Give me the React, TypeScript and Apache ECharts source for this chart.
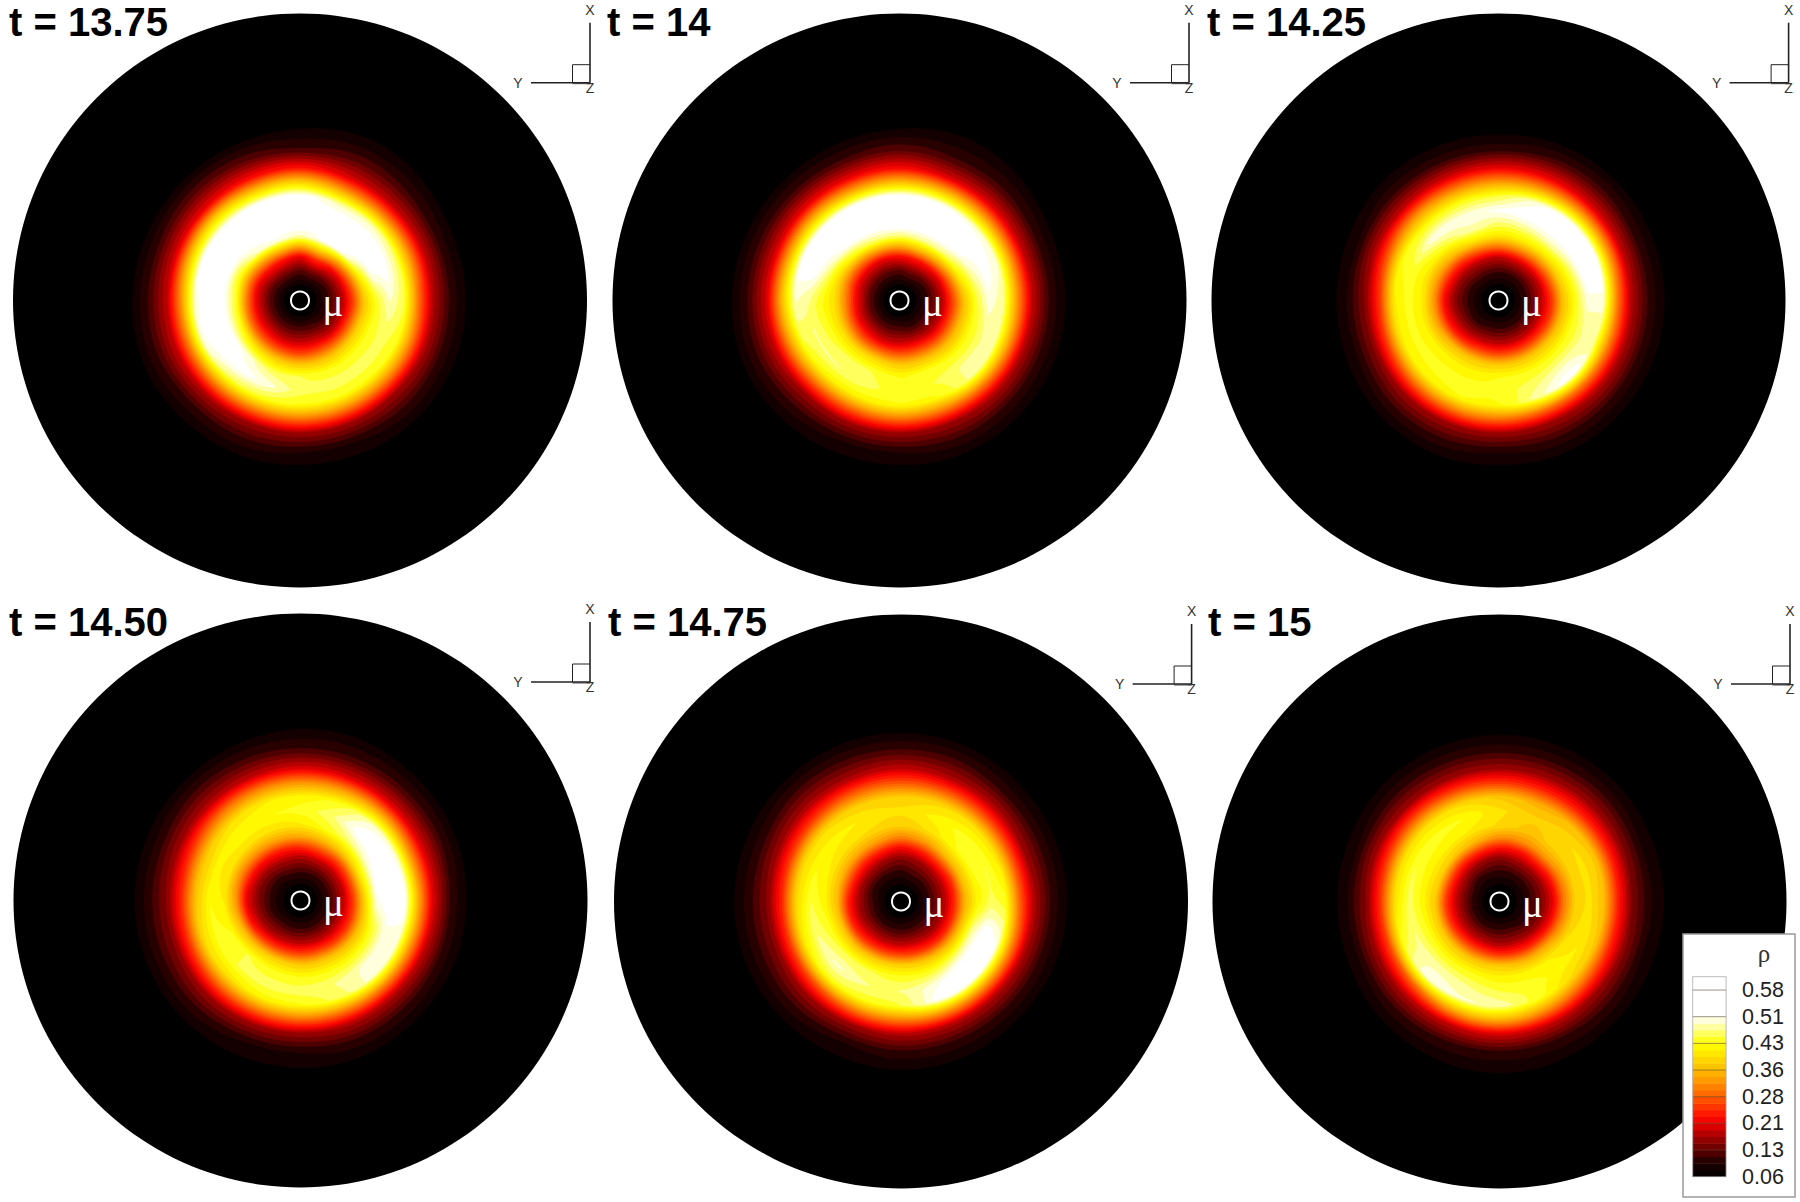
import React, { useEffect, useRef } from "react";
import * as echarts from "echarts";

// Angle of each table row (degrees, counter-clockwise from east) and radius of each column (px of the disc).
const angles = [0, 22.5, 45, 67.5, 90, 112.5, 135, 157.5, 180, 202.5, 225, 247.5, 270, 292.5, 315, 337.5];
const radii = [0, 14, 30, 44, 54, 64, 76, 90, 104, 118, 132, 150, 170, 200];
const titles = ["t = 13.75", "t = 14", "t = 14.25", "t = 14.50", "t = 14.75", "t = 15"];
const levels = [0.06, 0.0786, 0.0971, 0.1157, 0.1343, 0.1529, 0.1714, 0.19, 0.2086, 0.2271, 0.2457, 0.2643, 0.2829, 0.3014, 0.32, 0.3386, 0.3571, 0.3757, 0.3943, 0.4129, 0.4314, 0.45, 0.4686, 0.4871, 0.5057, 0.5243, 0.5429, 0.5614, 0.58, 0.5986, 0.6171];

// rho at radii[1..12]; radii[0] and radii[13] are the black surroundings.
const panel1 = [
  [.07,.12,.19,.27,.37,.44,.49,.45,.30,.18,.11,.070],
  [.07,.12,.20,.30,.42,.51,.52,.46,.32,.19,.11,.070],
  [.07,.13,.22,.34,.50,.53,.53,.48,.32,.19,.12,.080],
  [.07,.14,.25,.38,.51,.53,.53,.48,.33,.20,.13,.085],
  [.07,.13,.21,.34,.48,.53,.54,.52,.38,.23,.12,.080],
  [.07,.14,.23,.36,.50,.53,.54,.52,.37,.22,.13,.075],
  [.07,.14,.23,.34,.48,.52,.53,.52,.38,.21,.13,.070],
  [.07,.13,.21,.31,.43,.51,.53,.52,.36,.20,.12,.070],
  [.07,.13,.21,.31,.44,.51,.53,.50,.33,.19,.12,.072],
  [.07,.13,.21,.30,.43,.51,.53,.50,.32,.19,.12,.075],
  [.07,.13,.21,.29,.40,.50,.52,.46,.31,.18,.11,.072],
  [.07,.13,.20,.28,.38,.46,.50,.44,.30,.17,.11,.070],
  [.07,.13,.20,.27,.37,.45,.46,.43,.30,.17,.10,.070],
  [.07,.13,.20,.28,.37,.44,.46,.43,.30,.17,.10,.070],
  [.07,.12,.19,.28,.38,.44,.46,.43,.30,.17,.11,.070],
  [.07,.12,.19,.28,.38,.44,.46,.44,.31,.18,.11,.070],
];
const panel2 = [
  [.07,.12,.19,.27,.36,.44,.50,.47,.32,.19,.11,.070],
  [.07,.12,.20,.30,.41,.48,.52,.49,.33,.19,.11,.070],
  [.07,.13,.22,.34,.46,.52,.53,.50,.34,.20,.12,.080],
  [.07,.14,.23,.36,.47,.53,.53,.51,.35,.20,.12,.085],
  [.07,.13,.22,.34,.46,.53,.54,.52,.36,.22,.13,.080],
  [.07,.13,.21,.33,.46,.52,.54,.52,.35,.21,.12,.075],
  [.07,.13,.21,.31,.43,.51,.53,.52,.36,.21,.12,.070],
  [.07,.13,.21,.30,.39,.47,.53,.52,.35,.20,.12,.070],
  [.07,.13,.22,.31,.39,.43,.47,.49,.35,.20,.12,.072],
  [.07,.13,.21,.30,.39,.44,.47,.45,.32,.19,.12,.075],
  [.07,.13,.21,.29,.39,.45,.47,.42,.29,.17,.11,.072],
  [.07,.13,.20,.29,.39,.45,.46,.42,.29,.17,.10,.070],
  [.07,.13,.20,.28,.37,.43,.44,.43,.30,.17,.10,.070],
  [.07,.12,.20,.28,.37,.44,.45,.43,.30,.17,.11,.070],
  [.07,.12,.19,.27,.36,.43,.47,.48,.31,.18,.11,.070],
  [.07,.12,.19,.27,.36,.43,.47,.47,.32,.18,.11,.070],
];
const panel3 = [
  [.07,.12,.19,.26,.36,.43,.50,.50,.31,.18,.11,.070],
  [.07,.12,.19,.28,.38,.45,.53,.53,.34,.19,.11,.070],
  [.07,.12,.20,.30,.40,.48,.53,.53,.35,.20,.12,.072],
  [.07,.12,.20,.31,.41,.47,.53,.50,.34,.21,.12,.072],
  [.07,.12,.19,.30,.40,.46,.51,.45,.33,.21,.11,.070],
  [.07,.12,.19,.29,.40,.48,.50,.44,.32,.20,.11,.070],
  [.07,.12,.18,.26,.36,.44,.50,.43,.32,.19,.11,.070],
  [.07,.11,.17,.24,.33,.41,.45,.43,.29,.18,.10,.066],
  [.07,.11,.16,.22,.32,.41,.44,.41,.26,.16,.10,.064],
  [.07,.11,.17,.23,.33,.41,.44,.41,.27,.16,.10,.066],
  [.07,.11,.18,.25,.36,.42,.44,.42,.29,.17,.11,.068],
  [.07,.12,.19,.27,.37,.42,.44,.43,.30,.17,.11,.070],
  [.07,.12,.19,.27,.37,.43,.44,.43,.30,.17,.10,.070],
  [.07,.12,.19,.27,.37,.43,.46,.48,.30,.17,.11,.070],
  [.07,.12,.19,.27,.37,.43,.48,.52,.31,.18,.11,.070],
  [.07,.12,.19,.26,.36,.43,.47,.47,.31,.18,.11,.070],
];
const panel4 = [
  [.07,.12,.19,.27,.38,.50,.53,.51,.34,.20,.11,.070],
  [.07,.12,.19,.28,.40,.50,.54,.50,.33,.20,.12,.072],
  [.07,.12,.19,.27,.38,.47,.53,.49,.34,.20,.12,.076],
  [.07,.12,.19,.27,.36,.44,.47,.44,.33,.20,.12,.080],
  [.07,.12,.18,.25,.34,.41,.44,.42,.32,.20,.12,.080],
  [.07,.12,.18,.24,.33,.40,.43,.41,.31,.19,.12,.075],
  [.07,.11,.17,.23,.32,.40,.43,.39,.29,.18,.12,.070],
  [.07,.11,.16,.22,.31,.40,.42,.37,.26,.17,.11,.070],
  [.07,.11,.16,.21,.32,.41,.43,.37,.25,.16,.11,.070],
  [.07,.11,.17,.23,.35,.43,.44,.39,.26,.16,.11,.070],
  [.07,.12,.18,.26,.37,.45,.45,.40,.28,.17,.11,.072],
  [.07,.12,.19,.27,.38,.44,.46,.42,.29,.17,.10,.074],
  [.07,.12,.19,.27,.37,.43,.46,.43,.30,.17,.10,.075],
  [.07,.12,.19,.27,.37,.43,.47,.46,.31,.18,.11,.074],
  [.07,.12,.19,.26,.36,.43,.49,.50,.32,.18,.11,.070],
  [.07,.12,.19,.26,.36,.44,.50,.50,.33,.19,.11,.070],
];
const panel5 = [
  [.07,.12,.18,.25,.35,.42,.46,.44,.29,.18,.11,.070],
  [.07,.12,.18,.25,.36,.43,.45,.41,.28,.17,.11,.070],
  [.07,.12,.18,.26,.36,.43,.44,.40,.28,.18,.11,.072],
  [.07,.12,.17,.24,.33,.40,.42,.39,.28,.18,.12,.074],
  [.07,.11,.16,.22,.31,.38,.40,.38,.28,.19,.12,.075],
  [.07,.11,.17,.24,.33,.39,.41,.38,.28,.18,.12,.074],
  [.07,.11,.18,.25,.34,.40,.42,.39,.27,.18,.12,.072],
  [.07,.11,.18,.26,.35,.41,.43,.39,.26,.17,.11,.072],
  [.07,.12,.18,.25,.36,.42,.45,.39,.25,.16,.11,.072],
  [.07,.12,.18,.25,.37,.44,.47,.41,.26,.16,.11,.072],
  [.07,.12,.19,.26,.37,.45,.49,.44,.28,.17,.11,.072],
  [.07,.12,.19,.27,.38,.45,.47,.44,.30,.17,.10,.074],
  [.07,.12,.19,.27,.38,.44,.47,.45,.31,.18,.11,.075],
  [.07,.12,.19,.26,.37,.44,.50,.52,.33,.18,.11,.074],
  [.07,.12,.18,.25,.36,.46,.54,.53,.33,.18,.11,.070],
  [.07,.12,.18,.25,.36,.47,.53,.50,.32,.18,.11,.070],
];
const panel6 = [
  [.07,.11,.16,.21,.30,.38,.40,.36,.24,.15,.10,.070],
  [.07,.11,.16,.22,.31,.38,.40,.37,.25,.16,.10,.070],
  [.07,.11,.17,.24,.33,.38,.39,.36,.25,.17,.11,.070],
  [.07,.11,.17,.23,.32,.37,.38,.35,.25,.17,.11,.072],
  [.07,.11,.16,.23,.32,.39,.40,.37,.26,.17,.11,.072],
  [.07,.11,.17,.25,.35,.41,.43,.39,.27,.17,.11,.070],
  [.07,.11,.18,.26,.37,.42,.44,.40,.28,.17,.11,.068],
  [.07,.12,.19,.27,.38,.42,.45,.40,.27,.17,.10,.066],
  [.07,.12,.19,.26,.37,.42,.46,.40,.26,.16,.10,.065],
  [.07,.12,.19,.26,.37,.43,.47,.44,.27,.17,.10,.066],
  [.07,.12,.19,.27,.37,.43,.48,.50,.30,.18,.11,.072],
  [.07,.12,.19,.27,.37,.43,.47,.49,.34,.19,.11,.078],
  [.07,.12,.18,.26,.37,.42,.45,.48,.35,.20,.11,.080],
  [.07,.12,.18,.25,.35,.42,.44,.44,.32,.19,.11,.078],
  [.07,.11,.17,.24,.34,.41,.42,.39,.28,.17,.11,.072],
  [.07,.11,.16,.22,.31,.39,.41,.37,.25,.16,.10,.070],
];
const panels = [panel1, panel2, panel3, panel4, panel5, panel6];

// Layout and style
const DISC_R = 287;
const centers = [[300, 300.5], [899.5, 300.5], [1498.5, 300.5], [300.5, 900.5], [901, 901.5], [1499.5, 901.5]];
const titlePos = [[9, 2], [607, 2], [1207, 2], [9, 602], [608, 602], [1208, 602]];
const triads = [[590, 82.7], [1189, 82.7], [1788.6, 82.7], [590, 682], [1191.6, 684], [1790, 684]];
const colorStops: [number, number[]][] = [
  [0.06, [0, 0, 0]], [0.09, [22, 0, 0]], [0.11, [46, 0, 0]], [0.13, [90, 0, 0]], [0.17, [160, 0, 0]], [0.21, [240, 0, 0]], [0.23, [255, 16, 0]],
  [0.28, [255, 90, 0]], [0.32, [255, 144, 0]], [0.36, [255, 190, 0]], [0.40, [255, 228, 0]], [0.43, [255, 255, 0]],
  [0.46, [255, 255, 96]], [0.49, [255, 255, 208]], [0.51, [255, 255, 255]],
];

function colorOf(v: number): string {
  if (v <= colorStops[0][0]) return "rgb(0,0,0)";
  for (let i = 1; i < colorStops.length; i++) {
    if (v <= colorStops[i][0]) {
      const [a, ca] = colorStops[i - 1];
      const [b, cb] = colorStops[i];
      const t = (v - a) / (b - a);
      return `rgb(${ca.map((c, k) => Math.round(c + (cb[k] - c) * t)).join(",")})`;
    }
  }
  return "rgb(255,255,255)";
}

const FINE = 160;

// Table column resampled around the circle, so that contours close smoothly.
function buildColumns(table: number[][]): number[][] {
  const n = table.length;
  const out: number[][] = [];
  for (let a = 0; a < FINE; a++) {
    const u = (a / FINE) * n;
    const i = Math.floor(u);
    const t = u - i;
    const row = [0.05];
    for (let j = 0; j < table[0].length; j++) {
      const p0 = table[(i - 1 + n) % n][j];
      const p1 = table[i % n][j];
      const p2 = table[(i + 1) % n][j];
      const p3 = table[(i + 2) % n][j];
      row.push(0.5 * (2 * p1 + (p2 - p0) * t + (2 * p0 - 5 * p1 + 4 * p2 - p3) * t * t + (3 * p1 - p0 - 3 * p2 + p3) * t * t * t));
    }
    row.push(0.05);
    out.push(row);
  }
  return out;
}

function crossing(col: number[], level: number): [number, number] | null {
  let first = -1;
  let last = -1;
  for (let j = 0; j < col.length; j++) {
    if (col[j] >= level) {
      if (first < 0) first = j;
      last = j;
    }
  }
  if (first < 0) return null;
  const inner = first === 0 ? radii[0] : radii[first - 1] + ((level - col[first - 1]) / (col[first] - col[first - 1])) * (radii[first] - radii[first - 1]);
  const outer = last === col.length - 1 ? radii[last] : radii[last] + ((col[last] - level) / (col[last] - col[last + 1])) * (radii[last + 1] - radii[last]);
  return [inner, outer];
}

function bandPolygons(columns: number[][], level: number, coord: (v: number[]) => number[]): number[][][] {
  const c = columns.map((col) => crossing(col, level));
  const polys: number[][][] = [];
  const deg = (a: number) => (a * 360) / FINE;
  if (c.every(Boolean)) {
    const pts: number[][] = [];
    for (let a = 0; a <= FINE; a++) pts.push(coord([c[a % FINE]![1], deg(a)]));
    for (let a = FINE; a >= 0; a--) pts.push(coord([c[a % FINE]![0], deg(a)]));
    polys.push(pts);
    return polys;
  }
  const start = c.findIndex((x) => !x);
  for (let k = 1; k <= FINE; k++) {
    const a = start + k;
    if (c[a % FINE] && !c[(a - 1) % FINE]) {
      let b = a;
      while (c[b % FINE]) b++;
      const outer: number[][] = [];
      const inner: number[][] = [];
      for (let m = a; m < b; m++) {
        const v = c[m % FINE]!;
        outer.push(coord([v[1], deg(m)]));
        inner.unshift(coord([v[0], deg(m)]));
      }
      polys.push(outer.concat(inner));
    }
  }
  return polys;
}

function buildOption() {
  const series: any[] = [];
  const polar: any[] = [];
  const angleAxis: any[] = [];
  const radiusAxis: any[] = [];
  const graphic: any[] = [];
  const title: any[] = [];

  panels.forEach((table, p) => {
    polar.push({ center: centers[p], radius: DISC_R });
    angleAxis.push({ polarIndex: p, type: "value", min: 0, max: 360, startAngle: 0, clockwise: false, show: false });
    radiusAxis.push({ polarIndex: p, type: "value", min: 0, max: DISC_R, show: false });
    const columns = buildColumns(table);
    series.push({
      type: "custom",
      coordinateSystem: "polar",
      polarIndex: p,
      silent: true,
      clip: false,
      z: 2,
      data: [[DISC_R, 0]],
      encode: { radius: 0, angle: 1 },
      renderItem: (_: any, api: any) => {
        const c = api.coord([0, 0]);
        const e = api.coord([DISC_R, 0]);
        return { type: "circle", shape: { cx: c[0], cy: c[1], r: Math.abs(e[0] - c[0]) }, style: { fill: "#000" } };
      },
    });
    series.push({
      type: "custom",
      coordinateSystem: "polar",
      polarIndex: p,
      silent: true,
      clip: false,
      z: 3,
      data: levels.slice(1, 28).map((l) => [l, 0]),
      encode: { radius: 0, angle: 1 },
      renderItem: (params: any, api: any) => {
        const level = levels[params.dataIndex + 1];
        const fill = colorOf(level + 0.009);
        const polys = bandPolygons(columns, level, (v) => api.coord(v));
        return {
          type: "group",
          children: polys.map((pts) => ({
            type: "polygon",
            shape: { points: pts },
            style: { fill, stroke: fill, lineWidth: 0.6 },
          })),
        };
      },
    });

    const [cx, cy] = centers[p];
    graphic.push(
      { type: "circle", z: 20, shape: { cx, cy, r: 9 }, style: { fill: "none", stroke: "#fff", lineWidth: 2 } },
      { type: "text", z: 20, x: cx + 33, y: cy + 2, style: { text: "μ", fill: "#fff", font: '39px "Liberation Serif"', textAlign: "center", textVerticalAlign: "middle" } },
    );
    const [tx, ty] = triads[p];
    const line = (x1: number, y1: number, x2: number, y2: number, w: number) => ({
      type: "line",
      z: 20,
      shape: { x1, y1, x2, y2 },
      style: { stroke: "#222", lineWidth: w },
    });
    graphic.push(
      line(tx, ty - 60, tx, ty, 1.6),
      line(tx - 59, ty, tx, ty, 1.6),
      line(tx - 17.5, ty - 18, tx, ty - 18, 1),
      line(tx - 17.5, ty - 18, tx - 17.5, ty, 1),
      line(tx - 17.5, ty + 1, tx, ty + 1, 0.8),
      { type: "text", z: 20, x: tx, y: ty - 73, style: { text: "X", fill: "#333", font: '14px "Liberation Sans"', textAlign: "center", textVerticalAlign: "middle" } },
      { type: "text", z: 20, x: tx - 72, y: ty, style: { text: "Y", fill: "#333", font: '14px "Liberation Sans"', textAlign: "center", textVerticalAlign: "middle" } },
      { type: "text", z: 20, x: tx, y: ty + 5, style: { text: "Z", fill: "#333", font: '14px "Liberation Sans"', textAlign: "center", textVerticalAlign: "middle" } },
    );
    title.push({
      text: titles[p],
      left: titlePos[p][0],
      top: titlePos[p][1],
      padding: 0,
      textStyle: { fontFamily: "Liberation Sans", fontWeight: "bold", fontSize: 40, color: "#000" },
    });
  });

  // Colour-bar frame
  graphic.push(
    { type: "rect", z: 30, shape: { x: 1683, y: 934, width: 112, height: 263 }, style: { fill: "#fff", stroke: "#9a9a9a", lineWidth: 1.5 } },
    { type: "text", z: 31, x: 1764, y: 953, style: { text: "ρ", fill: "#333", font: '25px "Liberation Serif"', textAlign: "center", textVerticalAlign: "middle" } },
  );

  series.push({
    type: "custom",
    coordinateSystem: "cartesian2d",
    xAxisIndex: 0,
    yAxisIndex: 0,
    silent: true,
    clip: false,
    z: 40,
    data: levels.slice(0, -1).map((_, i) => [0, i]),
    encode: { x: 0, y: 1 },
    renderItem: (params: any, api: any) => {
      const i = params.dataIndex;
      const a = api.coord([0, i]);
      const b = api.coord([1, i + 1]);
      const children: any[] = [
        { type: "rect", shape: { x: a[0], y: b[1], width: b[0] - a[0], height: a[1] - b[1] + 0.4 }, style: { fill: colorOf(levels[i] + 0.009) } },
      ];
      if (i > 0 && i % 4 === 0) {
        children.push({ type: "line", shape: { x1: a[0], y1: a[1], x2: b[0], y2: a[1] }, style: { stroke: "rgba(90,70,50,0.75)", lineWidth: 0.8 } });
      }
      if (i === levels.length - 2) {
        children.push({ type: "rect", shape: { x: a[0], y: b[1], width: b[0] - a[0], height: 200 }, style: { fill: "none", stroke: "#aaa", lineWidth: 0.8 } });
      }
      return { type: "group", children };
    },
  });

  return {
    animation: false,
    backgroundColor: "#fff",
    title,
    polar,
    angleAxis,
    radiusAxis,
    graphic: { elements: graphic },
    grid: { left: 1692.7, top: 976.7, width: 33.4, height: 200 },
    xAxis: { type: "value", min: 0, max: 1, show: false },
    yAxis: {
      type: "category",
      position: "right",
      boundaryGap: false,
      data: levels.map((l) => l.toFixed(2)),
      z: 41,
      axisLine: { show: false },
      axisTick: { show: false },
      splitLine: { show: false },
      axisLabel: {
        interval: (i: number) => i % 4 === 0 && i <= 28,
        margin: 16,
        color: "#222",
        fontFamily: "Liberation Sans",
        fontSize: 21.5,
        align: "left",
      },
    },
    series,
  };
}

export default function App() {
  const ref = useRef<HTMLDivElement>(null);
  useEffect(() => {
    const chart = echarts.init(ref.current!, undefined, { renderer: "svg" });
    chart.setOption(buildOption() as any);
    return () => chart.dispose();
  }, []);
  return <div ref={ref} style={{ position: "fixed", left: 0, top: 0, width: 1800, height: 1202 }} />;
}
